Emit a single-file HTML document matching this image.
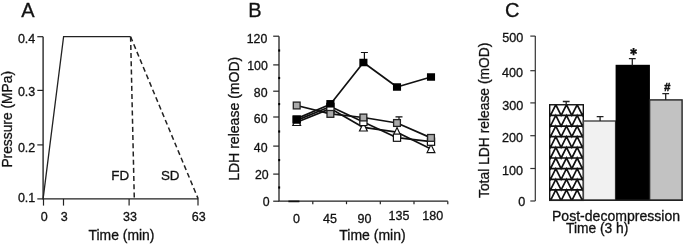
<!DOCTYPE html>
<html><head><meta charset="utf-8"><title>Figure</title>
<style>
html,body{margin:0;padding:0;background:#fff;}
body{width:685px;height:245px;overflow:hidden;}
svg{display:block;}
text{font-family:"Liberation Sans",Arial,sans-serif;fill:#111;stroke:#111;stroke-width:0.3px;}
.t{font-size:12.5px;}
.l{font-size:13.8px;}
.p{font-size:20px;}
.ast{font-family:"DejaVu Sans",sans-serif;font-size:9.5px;font-weight:bold;stroke-width:0.25px;}
</style></head><body>
<svg width="685" height="245" viewBox="0 0 685 245">
<rect width="685" height="245" fill="#fff"/>

<g id="panelA">
<text class="p" x="21.3" y="17.2">A</text>
<path d="M43.1 36.7V198.9H198.2" fill="none" stroke="#222" stroke-width="1.35"/>
<path d="M37.3 36.7H43.1" stroke="#222" stroke-width="1.2"/>
<text class="t" x="35.3" y="42.8" text-anchor="end">0.4</text>
<path d="M37.3 90.4H43.1" stroke="#222" stroke-width="1.2"/>
<text class="t" x="35.3" y="96.3" text-anchor="end">0.3</text>
<path d="M37.3 144.9H43.1" stroke="#222" stroke-width="1.2"/>
<text class="t" x="35.3" y="151.5" text-anchor="end">0.2</text>
<path d="M37.3 198.9H43.1" stroke="#222" stroke-width="1.2"/>
<text class="t" x="35.3" y="202.3" text-anchor="end">0.1</text>
<path d="M43.5 198.9V205.6" stroke="#222" stroke-width="1.2"/>
<text class="t" x="44.3" y="221.1" text-anchor="middle">0</text>
<path d="M63.5 198.9V205.6" stroke="#222" stroke-width="1.2"/>
<text class="t" x="64.3" y="221.1" text-anchor="middle">3</text>
<path d="M129.1 198.9V205.6" stroke="#222" stroke-width="1.2"/>
<text class="t" x="129.9" y="221.1" text-anchor="middle">33</text>
<path d="M198 198.9V205.6" stroke="#222" stroke-width="1.2"/>
<text class="t" x="198.8" y="221.1" text-anchor="middle">63</text>
<path d="M43.1 198.9L63.6 36.7H130.6" fill="none" stroke="#222" stroke-width="1.3"/>
<path d="M130.6 36.7L134.3 198.9" fill="none" stroke="#222" stroke-width="1.5" stroke-dasharray="5 3.2"/>
<path d="M130.6 36.7L198.2 198.9" fill="none" stroke="#222" stroke-width="1.5" stroke-dasharray="5 3.2"/>
<text style="font-size:13.4px" x="111.3" y="179.9">FD</text>
<text style="font-size:13.4px" x="160.9" y="179.9">SD</text>
<text style="font-size:13.9px" x="121.5" y="239.9" text-anchor="middle">Time (min)</text>
<text class="l" transform="translate(12.4 119.3) rotate(-90)" text-anchor="middle">Pressure (MPa)</text>
</g>
<g id="panelB">
<text class="p" x="248.2" y="17.3">B</text>
<path d="M279.0 36.2V201.2H447.8" fill="none" stroke="#222" stroke-width="1.3"/>
<path d="M273.2 36.2H279.0" stroke="#222" stroke-width="1.2"/>
<text style="font-size:12.3px" x="267.3" y="42.6" text-anchor="end">120</text>
<path d="M273.2 64.9H279.0" stroke="#222" stroke-width="1.2"/>
<text style="font-size:12.3px" x="267.8" y="70.4" text-anchor="end">100</text>
<path d="M273.2 91.2H279.0" stroke="#222" stroke-width="1.2"/>
<text style="font-size:12.3px" x="267.5" y="97.3" text-anchor="end">80</text>
<path d="M273.2 117.0H279.0" stroke="#222" stroke-width="1.2"/>
<text style="font-size:12.3px" x="267.5" y="123.1" text-anchor="end">60</text>
<path d="M273.2 146.1H279.0" stroke="#222" stroke-width="1.2"/>
<text style="font-size:12.3px" x="267.5" y="151.9" text-anchor="end">40</text>
<path d="M273.2 174.1H279.0" stroke="#222" stroke-width="1.2"/>
<text style="font-size:12.3px" x="268.6" y="179.3" text-anchor="end">20</text>
<path d="M273.2 201.2H279.0" stroke="#222" stroke-width="1.2"/>
<text style="font-size:12.3px" x="269.5" y="206.4" text-anchor="end">0</text>
<path d="M288.4 201.39999999999998H299.4" stroke="#111" stroke-width="1.7"/>
<path d="M279.2 49.4V51.6" stroke="#000" stroke-width="1.9"/>
<path d="M279.2 76.9V79.1" stroke="#000" stroke-width="1.9"/>
<path d="M279.2 103.0V105.19999999999999" stroke="#000" stroke-width="1.9"/>
<path d="M279.2 130.4V132.6" stroke="#000" stroke-width="1.9"/>
<path d="M279.2 159.0V161.2" stroke="#000" stroke-width="1.9"/>
<path d="M279.2 186.4V188.6" stroke="#000" stroke-width="1.9"/>
<path d="M312.8 201.2V204.2" stroke="#222" stroke-width="1.2"/>
<path d="M346.5 201.2V204.2" stroke="#222" stroke-width="1.2"/>
<path d="M380.3 201.2V204.2" stroke="#222" stroke-width="1.2"/>
<path d="M414.0 201.2V204.2" stroke="#222" stroke-width="1.2"/>
<path d="M447.8 201.2V204.2" stroke="#222" stroke-width="1.2"/>
<text class="t" x="296.4" y="223.3" text-anchor="middle">0</text>
<text class="t" x="330" y="223.3" text-anchor="middle">45</text>
<text class="t" x="364.5" y="223.3" text-anchor="middle">90</text>
<text class="t" x="399.0" y="219.8" text-anchor="middle">135</text>
<text class="t" x="432.8" y="220.0" text-anchor="middle">180</text>
<text style="font-size:14px" x="372.5" y="239.8" text-anchor="middle">Time (min)</text>
<text style="font-size:14.05px" transform="translate(239.3 118.8) rotate(-90)" text-anchor="middle">LDH release (mOD)</text>
<path d="M296.7 122.2 L330.4 108.6 L363.4 127.4 L397 132.2 L431 149" fill="none" stroke="#111" stroke-width="1.7" stroke-linejoin="round"/>
<path d="M296.7 117.30000000000001L300.59999999999997 125.5H292.8Z" fill="#fff" stroke="#111" stroke-width="1.2"/>
<path d="M330.4 104.60000000000001L334.29999999999995 112.8H326.5Z" fill="#fff" stroke="#111" stroke-width="1.2"/>
<path d="M363.4 122.80000000000001L367.29999999999995 131.0H359.5Z" fill="#fff" stroke="#111" stroke-width="1.2"/>
<path d="M397 127.6L400.9 135.79999999999998H393.1Z" fill="#fff" stroke="#111" stroke-width="1.2"/>
<path d="M431 144.4L434.9 152.6H427.1Z" fill="#fff" stroke="#111" stroke-width="1.2"/>
<path d="M296.7 120.4 L330.4 106.5 L363.4 122.0 L397 137.7 L431 141.7" fill="none" stroke="#111" stroke-width="1.7" stroke-linejoin="round"/>
<rect x="293.09999999999997" y="115.9" width="7.2" height="7.2" fill="#fff" stroke="#111" stroke-width="1.2"/>
<rect x="326.79999999999995" y="103.4" width="7.2" height="7.2" fill="#fff" stroke="#111" stroke-width="1.2"/>
<rect x="359.79999999999995" y="118.4" width="7.2" height="7.2" fill="#fff" stroke="#111" stroke-width="1.2"/>
<rect x="393.4" y="134.1" width="7.2" height="7.2" fill="#fff" stroke="#111" stroke-width="1.2"/>
<rect x="427.4" y="138.1" width="7.2" height="7.2" fill="#fff" stroke="#111" stroke-width="1.2"/>
<path d="M296.7 105.5 L330.4 113.9 L363.4 117.5 L397 123 L431 137.9" fill="none" stroke="#111" stroke-width="1.7" stroke-linejoin="round"/>
<path d="M399.0 123V116.9M395.5 116.9H402.5" fill="none" stroke="#111" stroke-width="1.2"/>
<rect x="293.3" y="102.1" width="6.8" height="6.8" fill="#aaa" stroke="#222" stroke-width="1.3"/>
<rect x="327.0" y="110.5" width="6.8" height="6.8" fill="#aaa" stroke="#222" stroke-width="1.3"/>
<rect x="360.0" y="114.1" width="6.8" height="6.8" fill="#aaa" stroke="#222" stroke-width="1.3"/>
<rect x="393.6" y="119.6" width="6.8" height="6.8" fill="#aaa" stroke="#222" stroke-width="1.3"/>
<rect x="427.6" y="134.5" width="6.8" height="6.8" fill="#aaa" stroke="#222" stroke-width="1.3"/>
<path d="M296.7 118.6 L330.4 104.2 L363.4 62.5 L397 87 L431 77" fill="none" stroke="#111" stroke-width="1.7" stroke-linejoin="round"/>
<path d="M364.4 62.5V52.5M360.9 52.5H367.9" fill="none" stroke="#111" stroke-width="1.2"/>
<rect x="292.65" y="115.75" width="8.1" height="7.5" fill="#000"/>
<rect x="326.34999999999997" y="100.05" width="8.1" height="7.5" fill="#000"/>
<rect x="359.34999999999997" y="58.75" width="8.1" height="7.5" fill="#000"/>
<rect x="392.95" y="83.25" width="8.1" height="7.5" fill="#000"/>
<rect x="426.95" y="73.25" width="8.1" height="7.5" fill="#000"/>
</g>
<g id="panelC">
<text class="p" x="505" y="17.1">C</text>
<path d="M535.3 36.1V200.9" fill="none" stroke="#333" stroke-width="1.2"/>
<path d="M530.3 36.1H535.3" stroke="#333" stroke-width="1.2"/>
<text style="font-size:12.6px" x="523.2" y="42.0" text-anchor="end">500</text>
<path d="M530.3 70.7H535.3" stroke="#333" stroke-width="1.2"/>
<text style="font-size:12.6px" x="523.0" y="76.9" text-anchor="end">400</text>
<path d="M530.3 102.9H535.3" stroke="#333" stroke-width="1.2"/>
<text style="font-size:12.6px" x="523.2" y="109.8" text-anchor="end">300</text>
<path d="M530.3 135.7H535.3" stroke="#333" stroke-width="1.2"/>
<text style="font-size:12.6px" x="523.1" y="142.3" text-anchor="end">200</text>
<path d="M530.3 168.5H535.3" stroke="#333" stroke-width="1.2"/>
<text style="font-size:12.6px" x="523.1" y="175.1" text-anchor="end">100</text>
<path d="M530.3 201.0H535.3" stroke="#333" stroke-width="1.2"/>
<text style="font-size:12.6px" x="525.2" y="206.4" text-anchor="end">0</text>
<text style="font-size:13.85px" transform="translate(488.9 120.3) rotate(-90)" text-anchor="middle">Total LDH release (mOD)</text>
<defs><clipPath id="cb"><rect x="549.7" y="104.75" width="33.6" height="95.55"/></clipPath></defs>
<rect x="549.7" y="104.75" width="33.6" height="95.55" fill="#fff"/>
<path d="M545.11 104.75L550.45 115.40L555.79 104.75L561.13 115.40L566.47 104.75L571.81 115.40L577.15 104.75L582.49 115.40L587.83 104.75M549 115.40H584M545.11 115.40L550.45 126.05L555.79 115.40L561.13 126.05L566.47 115.40L571.81 126.05L577.15 115.40L582.49 126.05L587.83 115.40M549 126.05H584M545.11 126.05L550.45 136.70L555.79 126.05L561.13 136.70L566.47 126.05L571.81 136.70L577.15 126.05L582.49 136.70L587.83 126.05M549 136.70H584M545.11 136.70L550.45 147.35L555.79 136.70L561.13 147.35L566.47 136.70L571.81 147.35L577.15 136.70L582.49 147.35L587.83 136.70M549 147.35H584M545.11 147.35L550.45 158.00L555.79 147.35L561.13 158.00L566.47 147.35L571.81 158.00L577.15 147.35L582.49 158.00L587.83 147.35M549 158.00H584M545.11 158.00L550.45 168.65L555.79 158.00L561.13 168.65L566.47 158.00L571.81 168.65L577.15 158.00L582.49 168.65L587.83 158.00M549 168.65H584M545.11 168.65L550.45 179.30L555.79 168.65L561.13 179.30L566.47 168.65L571.81 179.30L577.15 168.65L582.49 179.30L587.83 168.65M549 179.30H584M545.11 179.30L550.45 189.95L555.79 179.30L561.13 189.95L566.47 179.30L571.81 189.95L577.15 179.30L582.49 189.95L587.83 179.30M549 189.95H584M545.11 189.95L550.45 200.60L555.79 189.95L561.13 200.60L566.47 189.95L571.81 200.60L577.15 189.95L582.49 200.60L587.83 189.95M549 200.60H584" fill="none" stroke="#111" stroke-width="1.7" stroke-linejoin="miter" clip-path="url(#cb)"/>
<rect x="549.7" y="104.75" width="33.6" height="95.6" fill="none" stroke="#111" stroke-width="1.4"/>
<rect x="583.4" y="121.0" width="32.2" height="79.3" fill="#f1f1f1" stroke="#444" stroke-width="1.4"/>
<rect x="616.3" y="65.5" width="32.9" height="134.8" fill="#000" stroke="#000" stroke-width="1.4"/>
<rect x="649.6" y="99.9" width="32.5" height="100.4" fill="#c2c2c2" stroke="#222" stroke-width="1.4"/>
<path d="M549 200.3H682.8" stroke="#222" stroke-width="1.4"/>
<path d="M566.2 104.7V101.5M562.8000000000001 101.5H569.6" fill="none" stroke="#222" stroke-width="1.3"/>
<path d="M600.1 121V116.7M596.7 116.7H603.5" fill="none" stroke="#222" stroke-width="1.3"/>
<path d="M632.3 65.5V58.7M628.9 58.7H635.6999999999999" fill="none" stroke="#222" stroke-width="1.3"/>
<path d="M665.7 99.9V93.7M662.3000000000001 93.7H669.1" fill="none" stroke="#222" stroke-width="1.3"/>
<text class="ast" x="633.8" y="55.3" text-anchor="middle">✱</text>
<text x="667.2" y="90.8" text-anchor="middle" style="font-size:11px;font-weight:bold;stroke-width:0.5px">#</text>
<text style="font-size:14.05px" x="616" y="221.4" text-anchor="middle">Post-decompression</text>
<text class="l" x="597.2" y="232.8" text-anchor="middle">Time (3 h)</text>
</g>
</svg></body></html>
